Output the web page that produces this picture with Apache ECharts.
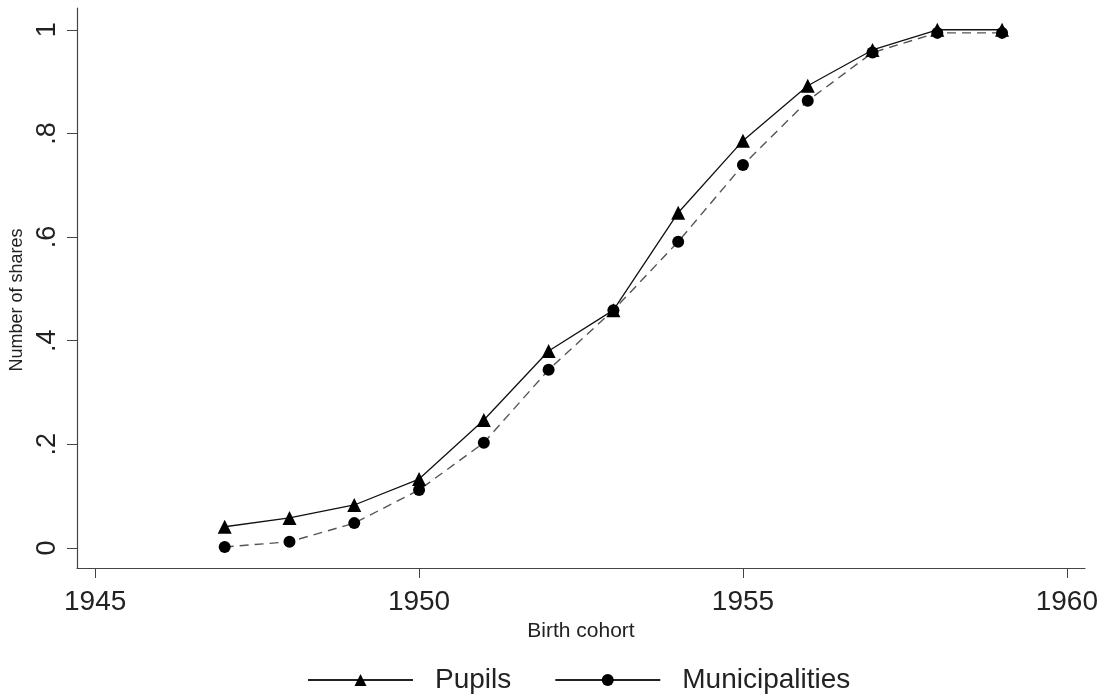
<!DOCTYPE html>
<html><head><meta charset="utf-8">
<script src="https://cdn.jsdelivr.net/npm/echarts@6/dist/echarts.min.js"></script>
<style>html,body{margin:0;padding:0;background:#fff}#c{width:1115px;height:699px}</style>
</head><body><div id="c"></div>
<script>
const years = [1947,1948,1949,1950,1951,1952,1953,1954,1955,1956,1957,1958,1959];
const pupils = [0.041,0.058,0.083,0.133,0.247,0.380,0.459,0.647,0.786,0.892,0.961,1.0,1.0];
const municipalities = [0.002,0.012,0.048,0.112,0.203,0.344,0.459,0.591,0.739,0.863,0.956,0.994,0.994];
const xTicks = [1945,1950,1955,1960];
const yTicks = [0,0.2,0.4,0.6,0.8,1];
const yLabels = ['0','.2','.4','.6','.8','1'];

const font = 'Liberation Sans, Arial, Helvetica, sans-serif';
const chart = echarts.init(document.getElementById('c'));
chart.setOption({
  animation:false,
  backgroundColor:'#fff',
  grid:{left:77,right:30,top:8,bottom:131,containLabel:false,outerBoundsMode:'none'},
  xAxis:{type:'value',min:1944.72,max:1960.28,
    name:'Birth cohort',nameLocation:'middle',nameGap:44,
    nameTextStyle:{fontFamily:font,fontSize:21,color:'#222'},
    axisLine:{show:true,onZero:false,lineStyle:{color:'#444',width:1.2}},
    axisTick:{show:true,length:10,customValues:xTicks,lineStyle:{color:'#444'}},
    axisLabel:{customValues:xTicks,fontFamily:font,fontSize:28,color:'#222',margin:20,
      formatter:v=>String(Math.round(v))},
    splitLine:{show:false}},
  yAxis:{type:'value',min:-0.0386,max:1.042,
    name:'Number of shares',nameLocation:'middle',nameGap:48,
    nameTextStyle:{fontFamily:font,fontSize:18,color:'#222',padding:[0,24,0,0]},
    axisLine:{show:true,onZero:false,lineStyle:{color:'#444',width:1.2}},
    axisTick:{show:true,length:10,customValues:yTicks,lineStyle:{color:'#444'}},
    axisLabel:{customValues:yTicks,rotate:90,fontFamily:font,fontSize:27,color:'#222',margin:16,
      formatter:v=>{const i=yTicks.findIndex(t=>Math.abs(t-v)<1e-6);return i>=0?yLabels[i]:'';}},
    splitLine:{show:false}},
  legend:{top:661,left:302,itemWidth:105,itemHeight:15,itemGap:43,
    textStyle:{fontFamily:font,fontSize:28,color:'#222',padding:[0,0,0,17]},
    data:[{name:'Pupils',lineStyle:{type:'solid',color:'#222'}},{name:'Municipalities',lineStyle:{type:'solid',color:'#222'}}]},
  series:[
    {name:'Pupils',type:'line',data:years.map((y,i)=>[y,pupils[i]]),
      symbol:'triangle',symbolSize:14,color:'#000',
      lineStyle:{color:'#111',width:1.3,type:'solid'},itemStyle:{color:'#000'}},
    {name:'Municipalities',type:'line',data:years.map((y,i)=>[y,municipalities[i]]),
      symbol:'circle',symbolSize:12,color:'#000',
      lineStyle:{color:'#555',width:1.4,type:[9,6]},itemStyle:{color:'#000'}}
  ]
});
</script></body></html>
